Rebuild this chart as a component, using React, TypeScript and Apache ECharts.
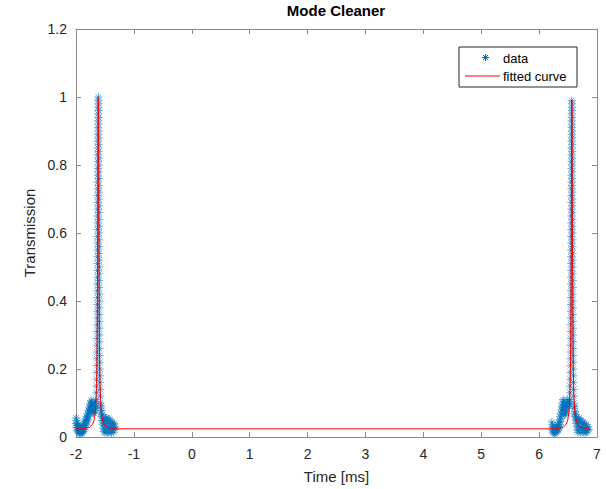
import React, { useEffect, useRef } from "react";
import * as echarts from "echarts";

// ---------- data ----------
const peakCenters = [-1.615, 6.566];
const peakTops = [1.0, 0.99];

// stacked samples on the rising flank of each peak: [offset from centre, transmission]
const riseFlank: [number, number][] = [
  [-0.036, 0.11], [-0.033, 0.13], [-0.03, 0.15], [-0.028, 0.17], [-0.026, 0.19], [-0.024, 0.21],
  [-0.023, 0.23], [-0.022, 0.25], [-0.021, 0.27], [-0.02, 0.29], [-0.019, 0.31], [-0.018, 0.33],
  [-0.017, 0.35], [-0.017, 0.37], [-0.016, 0.39], [-0.015, 0.41], [-0.015, 0.43], [-0.014, 0.45],
  [-0.014, 0.47], [-0.013, 0.49], [-0.013, 0.51], [-0.012, 0.53], [-0.012, 0.55], [-0.011, 0.57],
  [-0.011, 0.59], [-0.011, 0.61], [-0.01, 0.63], [-0.01, 0.65], [-0.009, 0.67], [-0.009, 0.69],
  [-0.009, 0.71], [-0.008, 0.73], [-0.008, 0.75], [-0.008, 0.77], [-0.007, 0.79], [-0.007, 0.81],
  [-0.006, 0.83], [-0.006, 0.85], [-0.006, 0.87], [-0.005, 0.89], [-0.005, 0.91], [-0.004, 0.93],
  [-0.004, 0.95], [-0.003, 0.97], [-0.002, 0.99],
];
// stacked samples on the falling flank
const fallFlank: [number, number][] = [
  [0.001, 1.0], [0.003, 0.98], [0.003, 0.96], [0.004, 0.94], [0.005, 0.92], [0.005, 0.9],
  [0.006, 0.88], [0.006, 0.86], [0.006, 0.84], [0.007, 0.82], [0.007, 0.8], [0.007, 0.78],
  [0.008, 0.76], [0.008, 0.74], [0.009, 0.72], [0.009, 0.7], [0.009, 0.68], [0.01, 0.66],
  [0.01, 0.64], [0.01, 0.62], [0.011, 0.6], [0.011, 0.58], [0.012, 0.56], [0.012, 0.54],
  [0.013, 0.52], [0.013, 0.5], [0.014, 0.48], [0.014, 0.46], [0.015, 0.44], [0.015, 0.42],
  [0.016, 0.4], [0.016, 0.38], [0.017, 0.36], [0.018, 0.34], [0.019, 0.32], [0.019, 0.3],
  [0.02, 0.28], [0.021, 0.26], [0.022, 0.24], [0.024, 0.22], [0.025, 0.2], [0.027, 0.18],
  [0.029, 0.16], [0.031, 0.14], [0.034, 0.12], [0.038, 0.1],
];

const peak1Left: [number, number][] = [
  [-2.0, 0.056], [-2.0, 0.04], [-1.995, 0.028], [-1.99, 0.048], [-1.985, 0.034], [-1.98, 0.02],
  [-1.975, 0.042], [-1.97, 0.028], [-1.965, 0.016], [-1.96, 0.036], [-1.955, 0.022], [-1.95, 0.012],
  [-1.945, 0.03], [-1.94, 0.018], [-1.935, 0.01], [-1.93, 0.026], [-1.925, 0.014], [-1.92, 0.022],
  [-1.915, 0.01], [-1.91, 0.018], [-1.905, 0.028], [-1.9, 0.014], [-1.895, 0.024], [-1.89, 0.012],
  [-1.885, 0.03], [-1.88, 0.02], [-1.875, 0.034], [-1.87, 0.016], [-1.865, 0.028], [-1.86, 0.04],
  [-1.855, 0.022], [-1.85, 0.034], [-1.845, 0.046], [-1.84, 0.028], [-1.835, 0.04], [-1.83, 0.052],
  [-1.825, 0.036], [-1.82, 0.048], [-1.815, 0.06], [-1.81, 0.044], [-1.805, 0.056], [-1.8, 0.068],
  [-1.795, 0.05], [-1.79, 0.064], [-1.785, 0.078], [-1.78, 0.06], [-1.775, 0.074], [-1.77, 0.088],
  [-1.765, 0.07], [-1.76, 0.084], [-1.755, 0.098], [-1.75, 0.08], [-1.745, 0.094], [-1.74, 0.108],
  [-1.735, 0.09], [-1.73, 0.104], [-1.725, 0.085], [-1.72, 0.1], [-1.715, 0.078], [-1.71, 0.094],
  [-1.705, 0.072], [-1.7, 0.088], [-1.695, 0.07], [-1.69, 0.084], [-1.685, 0.074], [-1.68, 0.09],
  [-1.675, 0.08], [-1.67, 0.098], [-1.665, 0.086], [-1.66, 0.104], [-1.655, 0.094],
];
const peak1Right: [number, number][] = [
  [-1.575, 0.085], [-1.57, 0.07], [-1.565, 0.092], [-1.56, 0.06], [-1.555, 0.078], [-1.55, 0.048],
  [-1.545, 0.066], [-1.54, 0.036], [-1.535, 0.056], [-1.53, 0.026], [-1.525, 0.048], [-1.52, 0.016],
  [-1.515, 0.04], [-1.51, 0.024], [-1.505, 0.052], [-1.5, 0.012], [-1.495, 0.034], [-1.49, 0.056],
  [-1.485, 0.02], [-1.48, 0.044], [-1.47, 0.056], [-1.465, 0.014], [-1.46, 0.032], [-1.455, 0.05],
  [-1.45, 0.022], [-1.44, 0.054], [-1.435, 0.012], [-1.43, 0.04], [-1.42, 0.026], [-1.415, 0.05],
  [-1.41, 0.016], [-1.4, 0.036], [-1.395, 0.046], [-1.39, 0.012], [-1.38, 0.03], [-1.375, 0.042],
  [-1.37, 0.02], [-1.36, 0.036], [-1.35, 0.014], [-1.345, 0.028], [-1.34, 0.04], [-1.33, 0.022],
  [-1.32, 0.03],
];
const peak2Left: [number, number][] = [
  [6.22, 0.044], [6.225, 0.03], [6.23, 0.02], [6.235, 0.036], [6.24, 0.012], [6.245, 0.026],
  [6.25, 0.016], [6.26, 0.032], [6.265, 0.01], [6.27, 0.022], [6.28, 0.014], [6.285, 0.028],
  [6.29, 0.012], [6.3, 0.02], [6.305, 0.03], [6.31, 0.016], [6.32, 0.024], [6.325, 0.036],
  [6.33, 0.02], [6.34, 0.03], [6.345, 0.042], [6.35, 0.026], [6.355, 0.05], [6.36, 0.036],
  [6.365, 0.06], [6.37, 0.045], [6.375, 0.07], [6.38, 0.055], [6.385, 0.08], [6.39, 0.065],
  [6.395, 0.09], [6.4, 0.075], [6.405, 0.1], [6.41, 0.085], [6.415, 0.11], [6.42, 0.095],
  [6.425, 0.105], [6.43, 0.08], [6.435, 0.095], [6.44, 0.07], [6.445, 0.088], [6.45, 0.065],
  [6.455, 0.08], [6.46, 0.07], [6.465, 0.09], [6.47, 0.075], [6.475, 0.1], [6.48, 0.085],
  [6.485, 0.11], [6.49, 0.095], [6.5, 0.1], [6.51, 0.09], [6.52, 0.105], [6.525, 0.095],
];
const peak2Right: [number, number][] = [
  [6.605, 0.085], [6.61, 0.07], [6.615, 0.09], [6.62, 0.06], [6.625, 0.075], [6.63, 0.05],
  [6.635, 0.065], [6.64, 0.04], [6.645, 0.058], [6.65, 0.03], [6.655, 0.052], [6.66, 0.02],
  [6.665, 0.045], [6.67, 0.014], [6.68, 0.05], [6.685, 0.03], [6.69, 0.056], [6.7, 0.02],
  [6.705, 0.042], [6.71, 0.012], [6.72, 0.05], [6.725, 0.03], [6.73, 0.046], [6.74, 0.018],
  [6.745, 0.04], [6.75, 0.026], [6.76, 0.044], [6.765, 0.014], [6.77, 0.034], [6.78, 0.022],
  [6.79, 0.04], [6.795, 0.012], [6.8, 0.03], [6.81, 0.02], [6.815, 0.036], [6.82, 0.014],
  [6.83, 0.026], [6.84, 0.018], [6.85, 0.03], [6.86, 0.022],
];

// fitted curve samples
const fitX = [
  -2.0, -1.865, -1.765, -1.715, -1.685, -1.665, -1.655, -1.645, -1.64, -1.635, -1.631, -1.627,
  -1.624, -1.621, -1.618, -1.615, -1.612, -1.609, -1.606, -1.603, -1.599, -1.595, -1.59, -1.585,
  -1.575, -1.565, -1.545, -1.515, -1.465, -1.365,
  6.316, 6.416, 6.466, 6.496, 6.516, 6.526, 6.536, 6.541, 6.546, 6.55, 6.554, 6.557, 6.56, 6.563,
  6.566, 6.569, 6.572, 6.575, 6.578, 6.582, 6.586, 6.591, 6.596, 6.606, 6.616, 6.636, 6.666,
  6.716, 6.86,
];
const fitY = [
  0.024, 0.024, 0.029, 0.037, 0.051, 0.076, 0.104, 0.158, 0.206, 0.282, 0.374, 0.511,
  0.648, 0.805, 0.942, 1.0, 0.942, 0.805, 0.648, 0.511, 0.374, 0.282, 0.206, 0.158,
  0.104, 0.076, 0.051, 0.037, 0.029, 0.024,
  0.024, 0.029, 0.037, 0.051, 0.075, 0.103, 0.157, 0.204, 0.279, 0.37, 0.506, 0.642, 0.797, 0.932,
  0.99, 0.932, 0.797, 0.642, 0.506, 0.37, 0.279, 0.204, 0.157, 0.103, 0.075, 0.051, 0.037,
  0.029, 0.024,
];

const yTickMin = 0;
const yTickMax = 1.2;
const yTickStep = 0.2;
const xTickMin = -2;
const xTickMax = 7;
const xTickStep = 1;

const ASTERISK_D = "M3.5,0L3.5,7M0,3.5L7,3.5M1,1L6,6M1,6L6,1";
echarts.graphic.registerShape("asterisk", echarts.graphic.extendPath(ASTERISK_D, {}));

const BLUE = "#0072BD";
const FONT = "'Liberation Sans', Arial, sans-serif";

export default function App() {
  const ref = useRef<HTMLDivElement>(null);
  useEffect(() => {
    if (!ref.current) return;
    const chart = echarts.init(ref.current, undefined, { renderer: "svg" });

    const scatterData: [number, number][] = [];
    const sides = [
      [peak1Left, peak1Right],
      [peak2Left, peak2Right],
    ];
    peakCenters.forEach((c, i) => {
      sides[i][0].forEach((p) => scatterData.push(p));
      riseFlank.forEach(([dx, y]) => {
        if (y <= peakTops[i]) scatterData.push([c + dx, y]);
      });
      fallFlank.forEach(([dx, y]) => {
        if (y <= peakTops[i]) scatterData.push([c + dx, y]);
      });
      sides[i][1].forEach((p) => scatterData.push(p));
    });
    const fitData = fitX.map((x, i) => [x, fitY[i]]);

    const axisLine = { show: true, onZero: false, lineStyle: { color: "#8a8a8a", width: 1 } };
    const axisTick = { show: true, inside: true, length: 5, lineStyle: { color: "#8a8a8a" } };
    const label = { color: "#262626", fontSize: 14, fontFamily: FONT };

    const L = 459, T = 47;
    chart.setOption({
      animation: false,
      backgroundColor: "#ffffff",
      title: {
        text: "Mode Cleaner",
        left: 336,
        textAlign: "center",
        top: 3,
        padding: 0,
        textStyle: { fontSize: 15, fontWeight: "bold", color: "#000", fontFamily: FONT },
      },
      grid: { left: 76, right: 9, top: 29, bottom: 52, containLabel: false },
      xAxis: [
        {
          type: "value",
          min: xTickMin,
          max: xTickMax,
          interval: xTickStep,
          position: "bottom",
          name: "Time [ms]",
          nameLocation: "middle",
          nameGap: 32,
          nameTextStyle: { fontSize: 15, color: "#262626", fontFamily: FONT },
          axisLine,
          axisTick,
          axisLabel: { ...label, margin: 10 },
          splitLine: { show: false },
        },
        {
          type: "value",
          min: xTickMin,
          max: xTickMax,
          interval: xTickStep,
          position: "top",
          axisLine,
          axisTick,
          axisLabel: { show: false },
          splitLine: { show: false },
        },
      ],
      yAxis: [
        {
          type: "value",
          min: yTickMin,
          max: yTickMax,
          interval: yTickStep,
          position: "left",
          name: "Transmission",
          nameLocation: "middle",
          nameGap: 27,
          nameTextStyle: { fontSize: 15, color: "#262626", fontFamily: FONT },
          axisLine,
          axisTick,
          axisLabel: { ...label, margin: 9 },
          splitLine: { show: false },
        },
        {
          type: "value",
          min: yTickMin,
          max: yTickMax,
          interval: yTickStep,
          position: "right",
          axisLine,
          axisTick,
          axisLabel: { show: false },
          splitLine: { show: false },
        },
      ],
      series: [
        {
          name: "data",
          type: "scatter",
          data: scatterData,
          symbol: "path://" + ASTERISK_D,
          symbolSize: 8,
          itemStyle: { color: BLUE, borderColor: BLUE, borderWidth: 1, opacity: 0.6 },
          z: 2,
        },
        {
          name: "fitted curve",
          type: "line",
          data: fitData,
          showSymbol: false,
          symbol: "none",
          lineStyle: { color: "#ff0000", width: 1 },
          z: 3,
        },
      ],
      graphic: [
        {
          type: "rect",
          shape: { x: L, y: T, width: 118, height: 40 },
          style: { fill: "#ffffff", stroke: "#262626", lineWidth: 1 },
          z: 100,
        },
        {
          type: "asterisk",
          x: L + 23,
          y: T + 7,
          style: { stroke: BLUE, fill: "none", lineWidth: 1 },
          z: 101,
        },
        {
          type: "text",
          x: L + 44,
          y: T + 11,
          style: { text: "data", fontSize: 13, fill: "#000", fontFamily: FONT, textVerticalAlign: "middle" },
          z: 101,
        },
        {
          type: "line",
          shape: { x1: L + 6, y1: T + 29, x2: L + 41, y2: T + 29 },
          style: { stroke: "#ff0000", lineWidth: 1 },
          z: 101,
        },
        {
          type: "text",
          x: L + 44,
          y: T + 29,
          style: { text: "fitted curve", fontSize: 13, fill: "#000", fontFamily: FONT, textVerticalAlign: "middle" },
          z: 101,
        },
      ],
    });
    return () => chart.dispose();
  }, []);
  return <div ref={ref} style={{ width: 606, height: 489, position: "absolute", left: 0, top: 0 }} />;
}
